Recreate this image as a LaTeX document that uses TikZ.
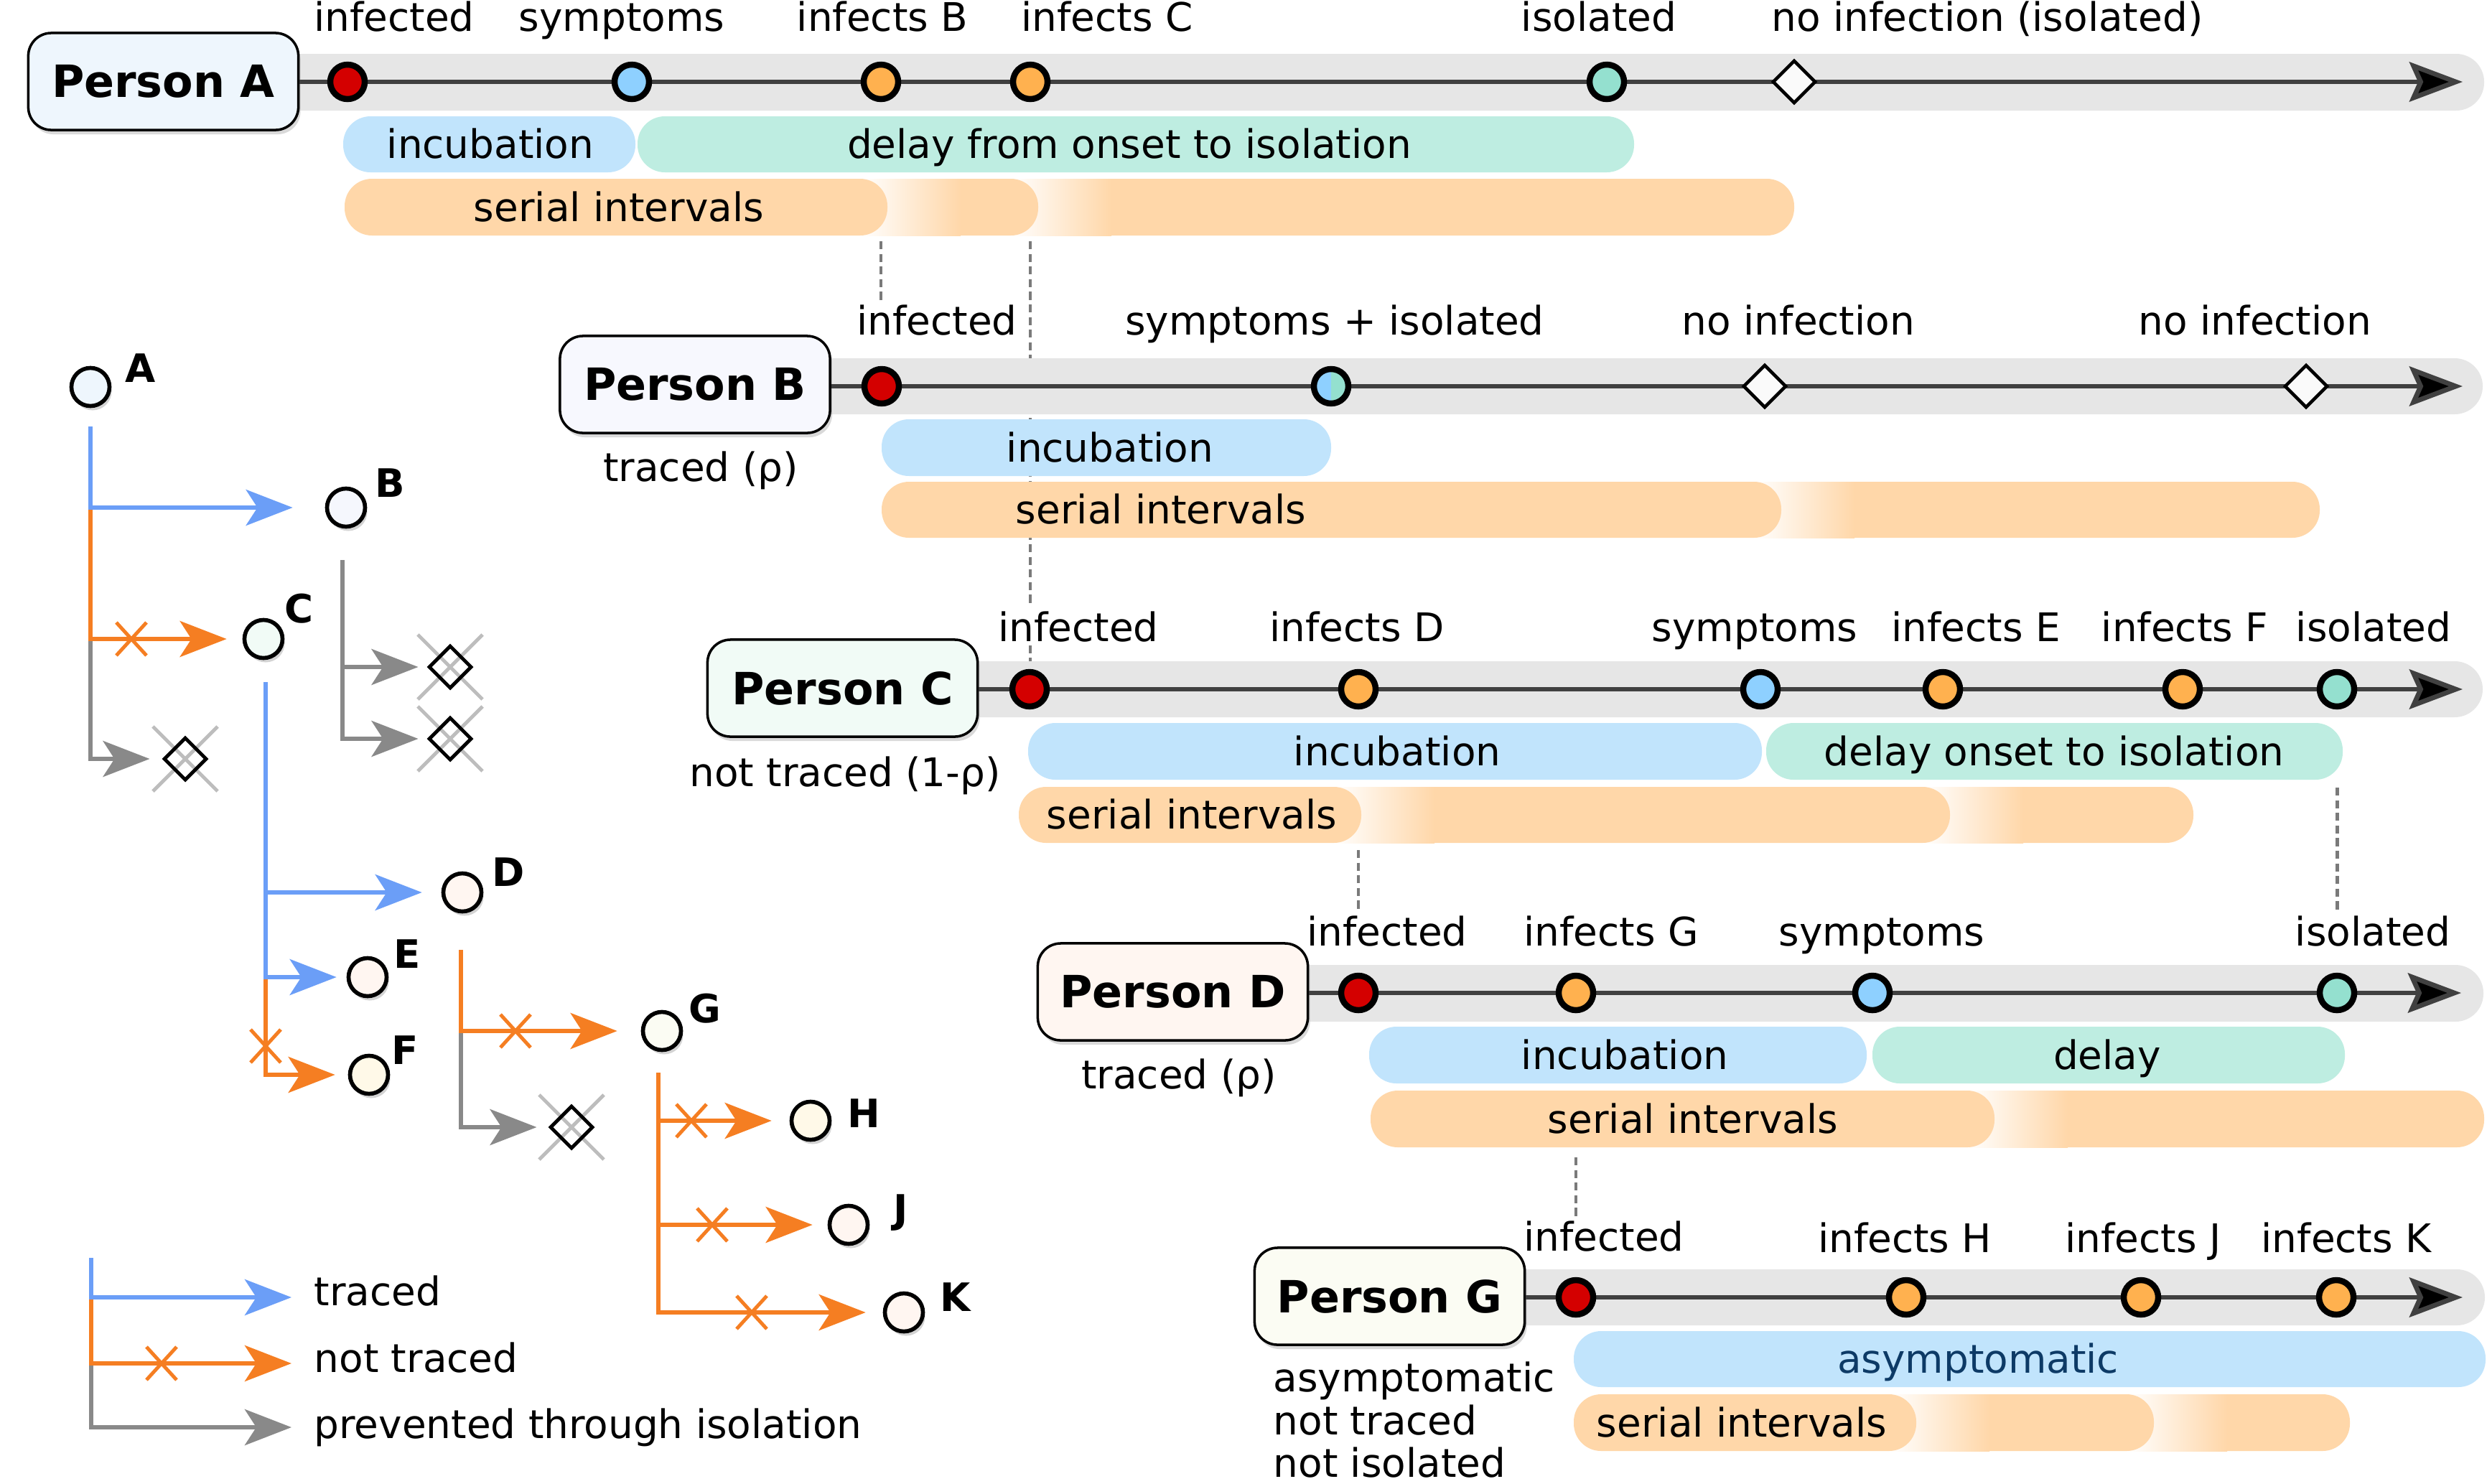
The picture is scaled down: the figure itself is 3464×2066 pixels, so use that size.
\documentclass[tikz,border=0pt]{standalone}
\usepackage{fontspec}
\setmainfont{DejaVu Sans}
\usetikzlibrary{arrows.meta,shapes.geometric,shadows,calc}
\pgfdeclarelayer{bg}
\pgfsetlayers{bg,main}
\definecolor{cred}{HTML}{D40000}
\definecolor{cblue}{HTML}{8ED0FF}
\definecolor{corange}{HTML}{FFB14F}
\definecolor{cgreen}{HTML}{94E0CF}
\definecolor{bandgray}{HTML}{E6E6E6}
\definecolor{tlinec}{HTML}{404040}
\definecolor{incubc}{HTML}{C1E4FC}
\definecolor{delayc}{HTML}{BEEDE1}
\definecolor{serialc}{HTML}{FFD7A9}
\definecolor{trbluec}{HTML}{6B9EF7}
\definecolor{trorangec}{HTML}{F57E22}
\definecolor{trgrayc}{HTML}{898989}
\definecolor{xgrayc}{HTML}{BDBDBD}
\definecolor{dashgray}{HTML}{7A7A7A}
\definecolor{asymtext}{HTML}{0D3A66}
\definecolor{boxA}{HTML}{EEF6FD}
\definecolor{boxB}{HTML}{F7F8FE}
\definecolor{boxC}{HTML}{F1FBF6}
\definecolor{boxD}{HTML}{FFF6F1}
\definecolor{boxG}{HTML}{FBFCF3}
\definecolor{nB}{HTML}{F5F7FD}
\definecolor{nF}{HTML}{FFF9E8}
\tikzset{
  every node/.style={font=\fontsize{15.6pt}{18pt}\selectfont},
  lab/.style={anchor=base, fill=white, inner sep=1.5pt},
  btxt/.style={anchor=base, inner sep=0pt},
  ltxt/.style={anchor=base west, inner sep=0pt},
  person/.style={draw, line width=1pt, rounded corners=0.32cm, minimum width=3.76cm,
    minimum height=1.35cm, inner sep=0pt, font=\fontsize{17.6pt}{20pt}\selectfont\bfseries,
    drop shadow={shadow xshift=0.03cm, shadow yshift=-0.06cm, opacity=0.3}},
  evt/.style={circle, draw=black, line width=2.4pt, minimum size=0.48cm, inner sep=0pt},
  nodia/.style={diamond, draw=black, fill=white!98!black, line width=1.3pt,
    minimum width=0.6cm, minimum height=0.6cm, inner sep=0pt},
  band/.style={fill=bandgray, rounded corners=0.39cm},
  tline/.style={draw=tlinec, line width=1.9pt,
    -{Stealth[length=0.74cm, width=0.55cm, inset=0.12cm, fill=black]}},
  incbar/.style={fill=incubc, rounded corners=0.38cm},
  delbar/.style={fill=delayc, rounded corners=0.38cm},
  serbar/.style={fill=serialc, rounded corners=0.38cm},
  serfade/.style={left color=white, right color=serialc},
  guide/.style={draw=dashgray, line width=1.4pt, dash pattern=on 3.2pt off 1.8pt},
  pers/.style={circle, draw=black, line width=1.6pt, minimum size=0.53cm, inner sep=0pt,
    drop shadow={shadow xshift=0.03cm, shadow yshift=-0.06cm, opacity=0.35}},
  tlet/.style={anchor=base, inner sep=0pt, font=\fontsize{15.5pt}{18pt}\selectfont\bfseries},
  trblue/.style={draw=trbluec, line width=1.7pt, -{Stealth[length=0.65cm, width=0.5cm, inset=0.16cm]}},
  trorange/.style={draw=trorangec, line width=1.7pt, -{Stealth[length=0.65cm, width=0.5cm, inset=0.16cm]}},
  trgray/.style={draw=trgrayc, line width=1.7pt, -{Stealth[length=0.65cm, width=0.5cm, inset=0.16cm]}},
  tdia/.style={diamond, draw=black, line width=1.4pt, minimum width=0.6cm, minimum height=0.6cm, inner sep=0pt},
  xo/.pic={\draw[trorangec, line width=1.4pt] (-0.21cm,-0.23cm) -- (0.21cm,0.23cm) (-0.21cm,0.23cm) -- (0.21cm,-0.23cm);},
  xg/.pic={\draw[xgrayc, line width=1.4pt] (-0.45cm,-0.45cm) -- (0.45cm,0.45cm) (-0.45cm,0.45cm) -- (0.45cm,-0.45cm);}
}
\begin{document}
\begin{tikzpicture}[x=0.01cm,y=-0.01cm]
\useasboundingbox (0,0) rectangle (3464,2066);

%================ Person A
\fill[band] (228,75) rectangle (3460,154);
\node[person, fill=boxA] (PA) at (227.5,113.5) {Person A};
\coordinate (endA) at (3430,114);
\draw[tline] (PA.east |- endA) -- (endA);
\node[evt, fill=cred] (Ainf) at (484,114) {};
\node[evt, fill=cblue] (Asym) at (880,114) {};
\node[evt, fill=corange] (Aib) at (1227,114) {};
\node[evt, fill=corange] (Aic) at (1435,114) {};
\node[evt, fill=cgreen] (Aiso) at (2238,114) {};
\node[nodia] (Ano) at (2499,114) {};
\node[lab] (LAinf) at (549,43) {infected};
\node[lab] (LAsym) at (866,43) {symptoms};
\node[lab] (LAib) at (1229,43) {infects B};
\node[lab] (LAic) at (1542,43) {infects C};
\node[lab] (LAiso) at (2227,43) {isolated};
\node[lab] (LAno) at (2768,43) {no infection (isolated)};
\fill[incbar] (478,162) rectangle (885,240);
\node[btxt] at (683,220) {incubation};
\fill[delbar] (888,162) rectangle (2276,240);
\node[btxt] at (1573,220) {delay from onset to isolation};
\fill[serbar] (1408,249) rectangle (2499,328);
\shade[serfade] (1408,249) rectangle (1548,328);
\fill[serbar] (1198,249) rectangle (1446,328);
\shade[serfade] (1198,249) rectangle (1338,328);
\fill[serbar] (480,249) rectangle (1236,328);
\node[btxt] at (862,308) {serial intervals};

%================ Person B
\fill[band] (968,499) rectangle (3458,577);
\node[person, fill=boxB] (PB) at (968,535.5) {Person B};
\coordinate (endB) at (3430,538);
\draw[tline] (PB.east |- endB) -- (endB);
\node[evt, fill=cred] (Binf) at (1228,538) {};
\node[evt, fill=cblue, path picture={\fill[cgreen] (path picture bounding box.south) rectangle (path picture bounding box.north east);}] (Bsym) at (1854,538) {};
\node[nodia] (Bno1) at (2458,538) {};
\node[nodia] (Bno2) at (3212,538) {};
\node[lab] (LBinf) at (1305,466) {infected};
\node[lab] (LBsym) at (1859,466) {symptoms + isolated};
\node[lab] (LBno1) at (2505,466) {no infection};
\node[lab] (LBno2) at (3141,466) {no infection};
\node[btxt] at (976,670) {traced (ρ)};
\fill[incbar] (1228,584) rectangle (1854,663);
\node[btxt] at (1546,643) {incubation};
\fill[serbar] (2443,671) rectangle (3231,749);
\shade[serfade] (2443,671) rectangle (2583,749);
\fill[serbar] (1228,671) rectangle (2481,749);
\node[btxt] at (1617,729) {serial intervals};

%================ Person C
\fill[band] (1173,921) rectangle (3458,999);
\node[person, fill=boxC] (PC) at (1173.5,958.5) {Person C};
\coordinate (endC) at (3430,960);
\draw[tline] (PC.east |- endC) -- (endC);
\node[evt, fill=cred] (Cinf) at (1434,960) {};
\node[evt, fill=corange] (Cid) at (1892,960) {};
\node[evt, fill=cblue] (Csym) at (2452,960) {};
\node[evt, fill=corange] (Cie) at (2706,960) {};
\node[evt, fill=corange] (Cif) at (3040,960) {};
\node[evt, fill=cgreen] (Ciso) at (3255,960) {};
\node[lab] (LCinf) at (1502,893) {infected};
\node[lab] (LCid) at (1890,893) {infects D};
\node[lab] (LCsym) at (2444,893) {symptoms};
\node[lab] (LCie) at (2752,893) {infects E};
\node[lab] (LCif) at (3043,893) {infects F};
\node[lab] (LCiso) at (3306,893) {isolated};
\node[btxt] at (1177,1095) {not traced (1-ρ)};
\fill[incbar] (1432,1007) rectangle (2454,1086);
\node[btxt] at (1946,1066) {incubation};
\fill[delbar] (2460,1007) rectangle (3263,1086);
\node[btxt] at (2861,1066) {delay onset to isolation};
\fill[serbar] (2678,1096) rectangle (3055,1174);
\shade[serfade] (2678,1096) rectangle (2818,1174);
\fill[serbar] (1858,1096) rectangle (2716,1174);
\shade[serfade] (1858,1096) rectangle (1998,1174);
\fill[serbar] (1419,1096) rectangle (1896,1174);
\node[btxt] at (1660,1154) {serial intervals};

%================ Person D
\fill[band] (1633,1344) rectangle (3459,1423);
\node[person, fill=boxD] (PD) at (1633.5,1381.5) {Person D};
\coordinate (endD) at (3428,1383);
\draw[tline] (PD.east |- endD) -- (endD);
\node[evt, fill=cred] (Dinf) at (1892,1383) {};
\node[evt, fill=corange] (Dig) at (2195,1383) {};
\node[evt, fill=cblue] (Dsym) at (2608,1383) {};
\node[evt, fill=cgreen] (Diso) at (3255,1383) {};
\node[lab] (LDinf) at (1932,1317) {infected};
\node[lab] (LDig) at (2244,1317) {infects G};
\node[lab] (LDsym) at (2621,1317) {symptoms};
\node[lab] (LDiso) at (3305,1317) {isolated};
\node[btxt] at (1642,1516) {traced (ρ)};
\fill[incbar] (1907,1430) rectangle (2600,1509);
\node[btxt] at (2263,1489) {incubation};
\fill[delbar] (2608,1430) rectangle (3266,1509);
\node[btxt] at (2935,1489) {delay};
\fill[serbar] (2740,1519) rectangle (3460,1598);
\shade[serfade] (2740,1519) rectangle (2880,1598);
\fill[serbar] (1909,1519) rectangle (2778,1598);
\node[btxt] at (2358,1578) {serial intervals};

%================ Person G
\fill[band] (1935,1768) rectangle (3461,1846);
\node[person, fill=boxG] (PG) at (1935.5,1805.5) {Person G};
\coordinate (endG) at (3430,1807);
\draw[tline] (PG.east |- endG) -- (endG);
\node[evt, fill=cred] (Ginf) at (2195,1807) {};
\node[evt, fill=corange] (Gih) at (2655,1807) {};
\node[evt, fill=corange] (Gij) at (2982,1807) {};
\node[evt, fill=corange] (Gik) at (3254,1807) {};
\node[lab] (LGinf) at (2234,1742) {infected};
\node[lab] (LGih) at (2653,1744) {infects H};
\node[lab] (LGij) at (2985,1744) {infects J};
\node[lab] (LGik) at (3268,1744) {infects K};
\node[ltxt] at (1773,1938) {asymptomatic};
\node[ltxt] at (1773,1998) {not traced};
\node[ltxt] at (1773,2057) {not isolated};
\fill[incbar] (2192,1854) rectangle (3462,1932);
\node[btxt, text=asymtext] at (2755,1912) {asymptomatic};
\fill[serbar] (2962,1942) rectangle (3273,2021);
\shade[serfade] (2962,1942) rectangle (3102,2021);
\fill[serbar] (2631,1942) rectangle (3000,2021);
\shade[serfade] (2631,1942) rectangle (2771,2021);
\fill[serbar] (2192,1942) rectangle (2669,2021);
\node[btxt] at (2426,2001) {serial intervals};

%================ guide lines (behind)
\coordinate (yA) at (0,336);
\coordinate (yC) at (0,1184);
\coordinate (yC2) at (0,1097);
\coordinate (yD) at (0,1612);
\begin{pgfonlayer}{bg}
\draw[guide] (Aib |- yA) -- (Aib |- LBinf.north);
\draw[guide] (Aic |- yA) -- (Aic |- Cinf);
\draw[guide] (Cid |- yC) -- (Cid |- LDinf.north);
\draw[guide] (Ciso |- yC2) -- (Ciso |- LDiso.north);
\draw[guide] (Dig |- yD) -- (Dig |- LGinf.north);
\end{pgfonlayer}

%================ tree
\node[pers, fill=boxA] (A) at (126,539) {};
\node[pers, fill=nB] (B) at (482,707) {};
\node[pers, fill=boxC] (C) at (367,890) {};
\node[pers, fill=boxD] (D) at (644,1243) {};
\node[pers, fill=boxD] (E) at (512,1361) {};
\node[pers, fill=nF] (F) at (514,1497) {};
\node[pers, fill=boxG] (G) at (922,1436) {};
\node[pers, fill=nF] (H) at (1129,1561) {};
\node[pers, fill=boxD] (J) at (1182,1706) {};
\node[pers, fill=boxD] (K) at (1259,1828) {};
\node[tlet] at (196,532) {A};
\node[tlet] at (543,692) {B};
\node[tlet] at (416,867) {C};
\node[tlet] at (708,1234) {D};
\node[tlet] at (567,1348) {E};
\node[tlet] at (564,1482) {F};
\node[tlet] at (982,1424) {G};
\node[tlet] at (1203,1570) {H};
\node[tlet] at (1255,1703) {J};
\node[tlet] at (1331,1826) {K};

% prevented (crossed) outcomes
\pic at (258,1057) {xg};
\node[tdia] (dA) at (258,1057) {};
\pic at (627,929) {xg};
\node[tdia] (dB1) at (627,929) {};
\pic at (627,1029) {xg};
\node[tdia] (dB2) at (627,1029) {};
\pic at (796,1570) {xg};
\node[tdia] (dD) at (796,1570) {};

% A's branches
\draw[trgray, shorten >=0.17cm] (A |- C) |- (dA);
\draw[trorange, shorten >=0.22cm] (A |- B) |- (C);
\draw[trblue, shorten >=0.45cm] ([yshift=-0.55cm]A.center) |- (B);
\pic at (183,890) {xo};
% B's branches
\coordinate (Bs) at (477,780);
\draw[trgray, shorten >=0.12cm] (Bs) |- (dB2);
\draw[trgray, shorten >=0.12cm] (Bs) |- (dB1);
% C's branches
\coordinate (Cs) at (370,950);
\draw[trorange, shorten >=0.18cm] (Cs |- E) |- (F);
\draw[trblue, shorten >=0.27cm] (Cs) |- (D);
\draw[trblue, shorten >=0.14cm] (Cs) |- (E);
\pic at (370,1457) {xo};
% D's branches
\coordinate (Ds) at (642,1323);
\draw[trgray, shorten >=0.16cm] (Ds |- G) |- (dD);
\draw[trorange, shorten >=0.33cm] (Ds) |- (G);
\pic at (718,1436) {xo};
% G's branches
\coordinate (Gs) at (917,1494);
\draw[trorange, shorten >=0.24cm] (Gs) |- (K);
\draw[trorange, shorten >=0.21cm] (Gs) |- (J);
\draw[trorange, shorten >=0.25cm] (Gs) |- (H);
\pic at (963,1561) {xo};
\pic at (992,1706) {xo};
\pic at (1047,1828) {xo};

%================ legend
\coordinate (L0) at (127,1752);
\coordinate (L1) at (406,1807);
\coordinate (L2) at (406,1899);
\coordinate (L3) at (406,1988);
\draw[trgray] (L0 |- L2) |- (L3);
\draw[trorange] (L0 |- L1) |- (L2);
\draw[trblue] (L0) |- (L1);
\pic at (225,1899) {xo};
\node[ltxt] at (437,1818) {traced};
\node[ltxt] at (437,1911) {not traced};
\node[ltxt] at (437,2003) {prevented through isolation};
\end{tikzpicture}
\end{document}
